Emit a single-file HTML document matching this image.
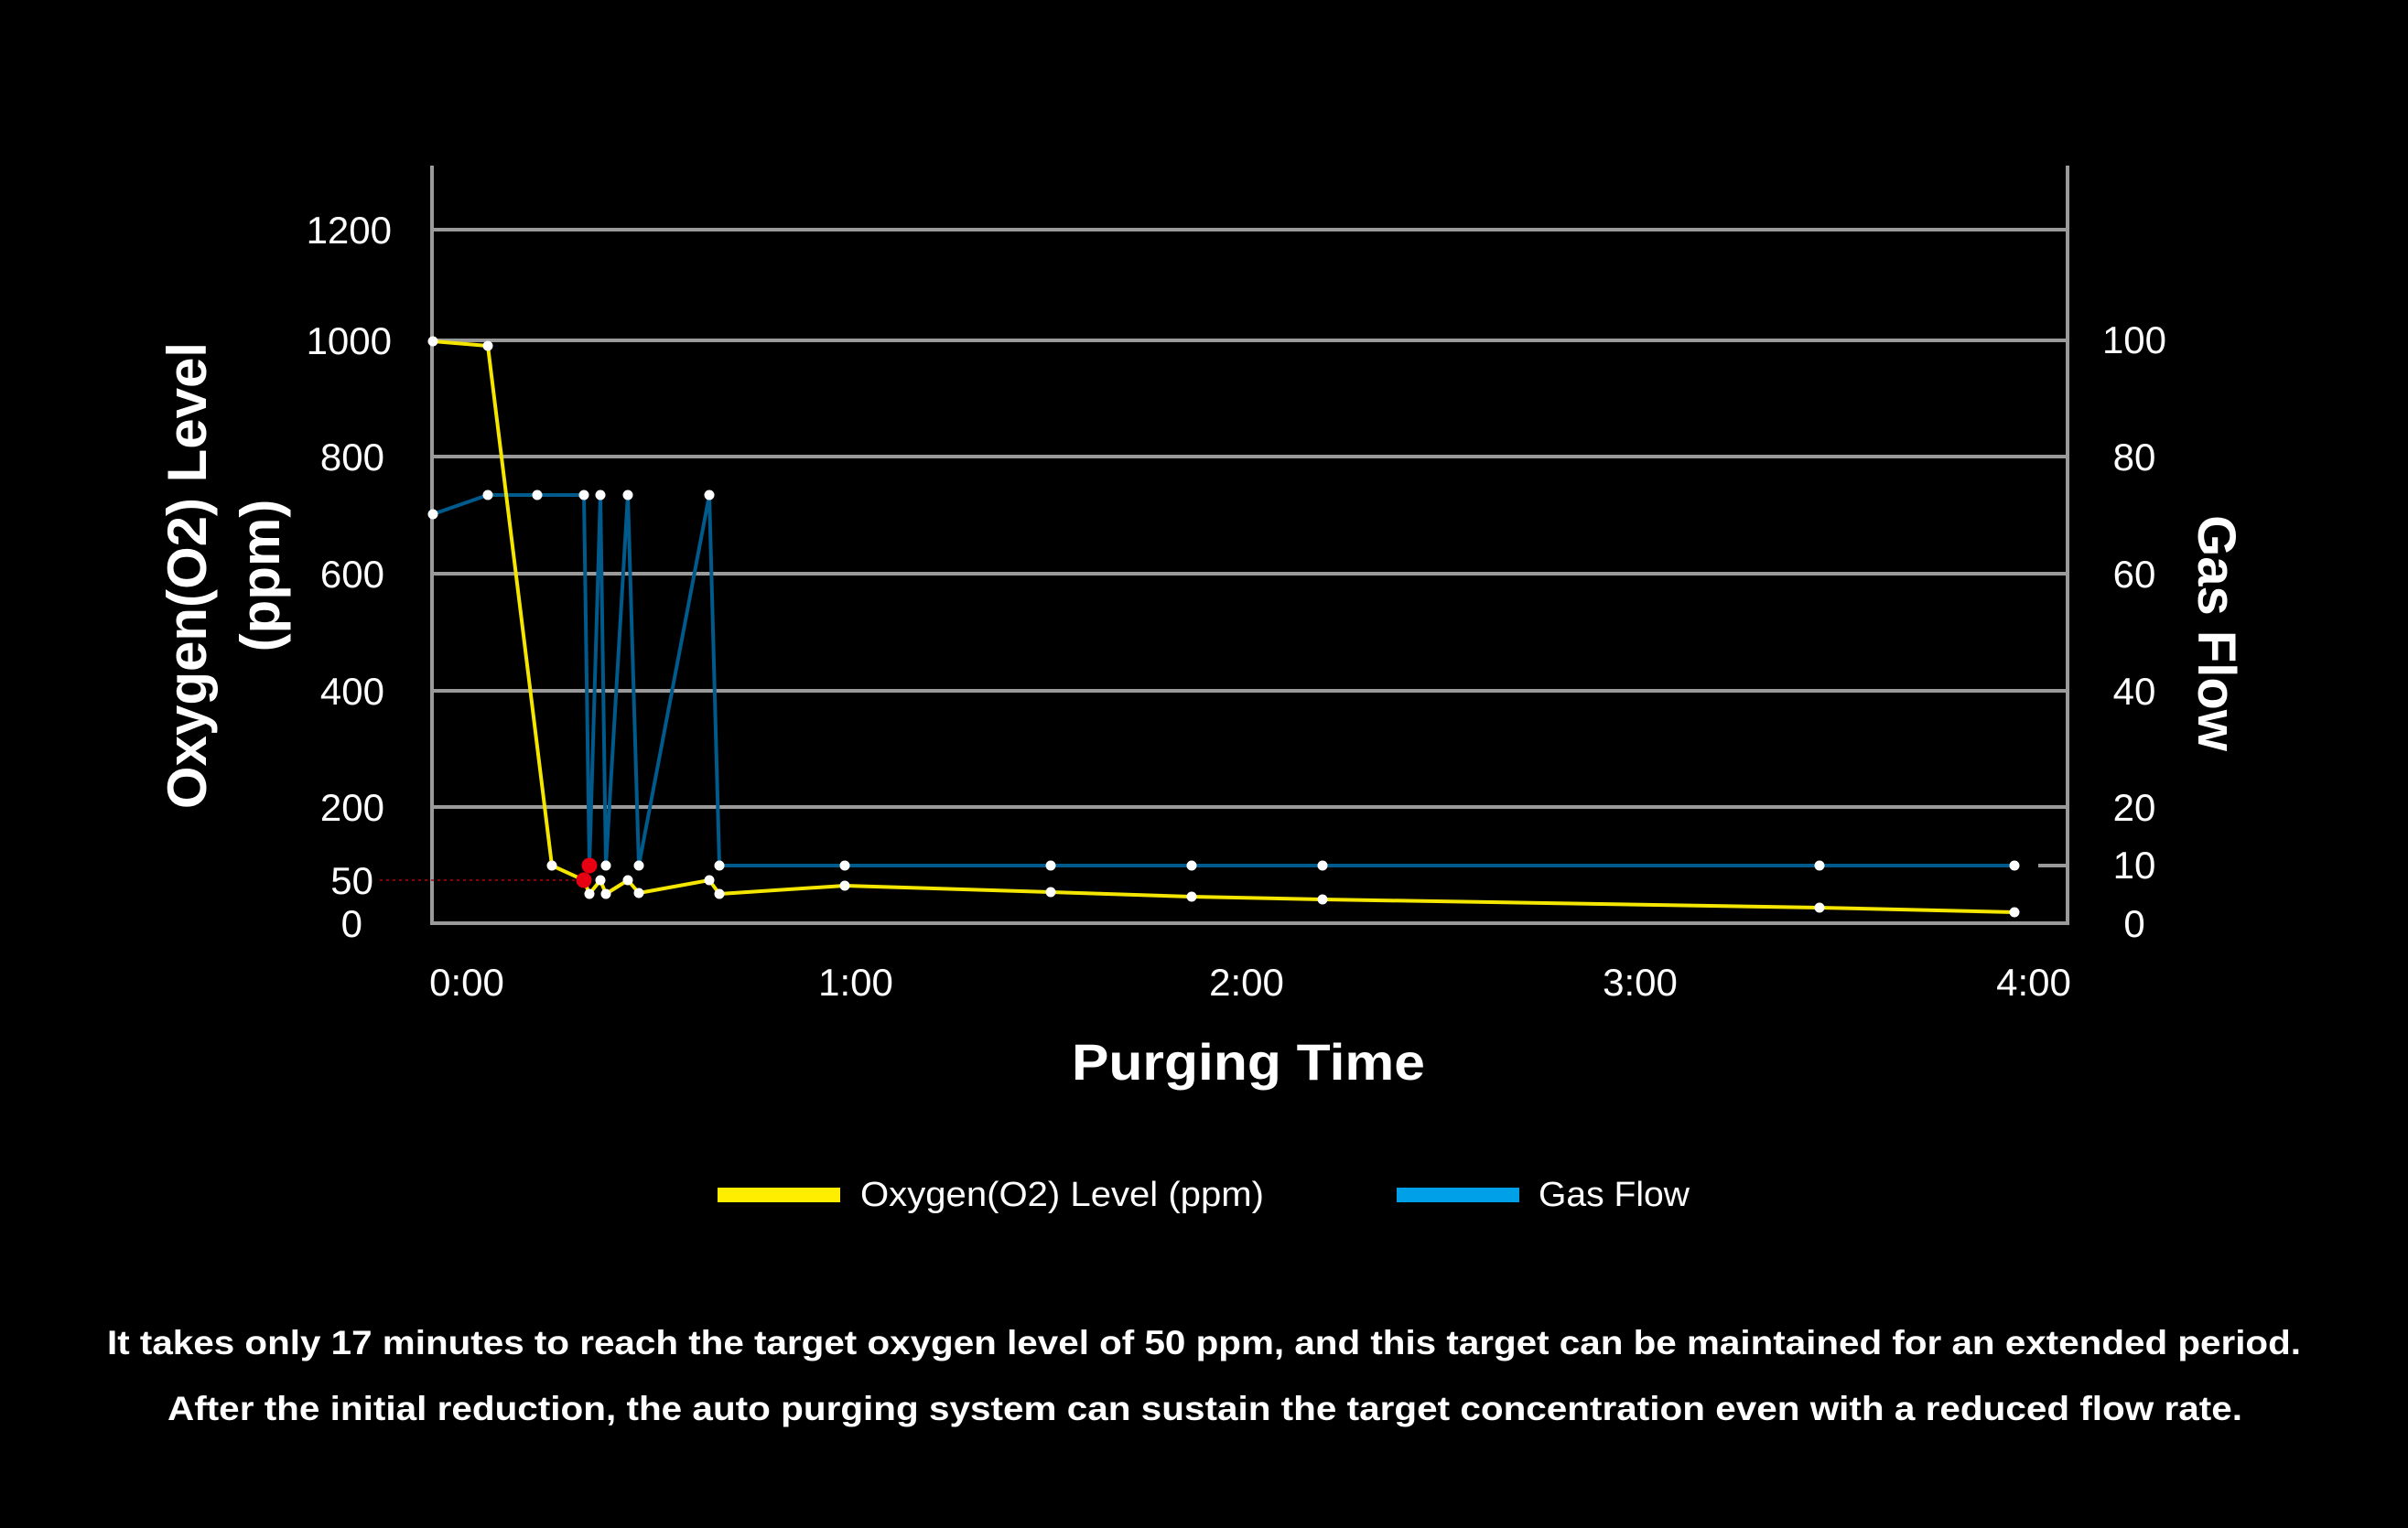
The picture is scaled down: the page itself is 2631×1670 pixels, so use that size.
<!DOCTYPE html>
<html><head><meta charset="utf-8"><style>
html,body{margin:0;padding:0;background:#000;}
svg{display:block;}
text{font-family:"Liberation Sans",sans-serif;fill:#fff;}
</style></head><body>
<svg width="2631" height="1670" viewBox="0 0 2631 1670" xmlns="http://www.w3.org/2000/svg">
<rect width="2631" height="1670" fill="#000"/>
<g stroke="#9a9a9a" stroke-width="4">
<line x1="472" y1="251" x2="2258" y2="251"/>
<line x1="472" y1="372" x2="2258" y2="372"/>
<line x1="472" y1="499" x2="2258" y2="499"/>
<line x1="472" y1="627" x2="2258" y2="627"/>
<line x1="472" y1="755" x2="2258" y2="755"/>
<line x1="472" y1="882" x2="2258" y2="882"/>
<line x1="2227" y1="946" x2="2258" y2="946"/>
<line x1="472" y1="1009" x2="2260" y2="1009"/>
<line x1="472" y1="181" x2="472" y2="1011"/>
<line x1="2259" y1="181" x2="2259" y2="1011"/>
</g>
<line x1="415" y1="962" x2="636" y2="962" stroke="#c00000" stroke-width="1.5" stroke-dasharray="3,4"/>
<g font-size="42" text-anchor="end">
<text x="428" y="266">1200</text>
<text x="428" y="387">1000</text>
<text x="420" y="514">800</text>
<text x="420" y="642">600</text>
<text x="420" y="770">400</text>
<text x="420" y="897">200</text>
<text x="408" y="977">50</text>
<text x="396" y="1024">0</text>
</g>
<g font-size="42" text-anchor="middle">
<text x="2332" y="386">100</text>
<text x="2332" y="514">80</text>
<text x="2332" y="642">60</text>
<text x="2332" y="770">40</text>
<text x="2332" y="897">20</text>
<text x="2332" y="960">10</text>
<text x="2332" y="1024">0</text>
<text x="510" y="1088">0:00</text>
<text x="935" y="1088">1:00</text>
<text x="1362" y="1088">2:00</text>
<text x="1792" y="1088">3:00</text>
<text x="2222" y="1088">4:00</text>
</g>
<text x="1171" y="1180" font-size="56" font-weight="bold" textLength="386" lengthAdjust="spacingAndGlyphs">Purging Time</text>
<text transform="translate(225,629) rotate(-90)" font-size="60" font-weight="bold" text-anchor="middle">Oxygen(O2) Level</text>
<text transform="translate(305,629) rotate(-90)" font-size="60" font-weight="bold" text-anchor="middle">(ppm)</text>
<text transform="translate(2402,692) rotate(90)" font-size="58" font-weight="bold" text-anchor="middle">Gas Flow</text>
<polyline fill="none" stroke="#005a8c" stroke-width="4" stroke-linejoin="round" points="473,562 533,541 587,541 638,541 644,946 656,541 662,946 686,541 698,946 775,541 786,946 923,946 1148,946 1302,946 1445,946 1988,946 2201,946"/>
<polyline fill="none" stroke="#f5e600" stroke-width="4" stroke-linejoin="round" points="473,373 533,378 603,946 638,962 644,977 656,962 662,977 686,962 698,976 775,962 786,977 923,968 1148,975 1302,980 1445,983 1988,992 2201,997"/>
<g fill="#fff">
<circle cx="473" cy="562" r="5.5"/><circle cx="533" cy="541" r="5.5"/><circle cx="587" cy="541" r="5.5"/><circle cx="638" cy="541" r="5.5"/><circle cx="656" cy="541" r="5.5"/><circle cx="662" cy="946" r="5.5"/><circle cx="686" cy="541" r="5.5"/><circle cx="698" cy="946" r="5.5"/><circle cx="775" cy="541" r="5.5"/><circle cx="786" cy="946" r="5.5"/><circle cx="923" cy="946" r="5.5"/><circle cx="1148" cy="946" r="5.5"/><circle cx="1302" cy="946" r="5.5"/><circle cx="1445" cy="946" r="5.5"/><circle cx="1988" cy="946" r="5.5"/><circle cx="2201" cy="946" r="5.5"/>
<circle cx="473" cy="373" r="5.5"/><circle cx="533" cy="378" r="5.5"/><circle cx="603" cy="946" r="5.5"/><circle cx="644" cy="977" r="5.5"/><circle cx="656" cy="962" r="5.5"/><circle cx="662" cy="977" r="5.5"/><circle cx="686" cy="962" r="5.5"/><circle cx="698" cy="976" r="5.5"/><circle cx="775" cy="962" r="5.5"/><circle cx="786" cy="977" r="5.5"/><circle cx="923" cy="968" r="5.5"/><circle cx="1148" cy="975" r="5.5"/><circle cx="1302" cy="980" r="5.5"/><circle cx="1445" cy="983" r="5.5"/><circle cx="1988" cy="992" r="5.5"/><circle cx="2201" cy="997" r="5.5"/>
</g>
<circle cx="644" cy="946" r="8.5" fill="#e60012"/>
<circle cx="638" cy="962" r="8.5" fill="#e60012"/>
<rect x="784" y="1298" width="134" height="16" fill="#ffee00"/>
<text x="940" y="1318" font-size="38" textLength="441" lengthAdjust="spacingAndGlyphs">Oxygen(O2) Level (ppm)</text>
<rect x="1526" y="1298" width="134" height="16" fill="#00a0e8"/>
<text x="1681" y="1318" font-size="38" textLength="165" lengthAdjust="spacingAndGlyphs">Gas Flow</text>
<text x="117" y="1480" font-size="37" font-weight="bold" textLength="2397" lengthAdjust="spacingAndGlyphs">It takes only 17 minutes to reach the target oxygen level of 50 ppm, and this target can be maintained for an extended period.</text>
<text x="183" y="1552" font-size="37" font-weight="bold" textLength="2267" lengthAdjust="spacingAndGlyphs">After the initial reduction, the auto purging system can sustain the target concentration even with a reduced flow rate.</text>
</svg>
</body></html>
